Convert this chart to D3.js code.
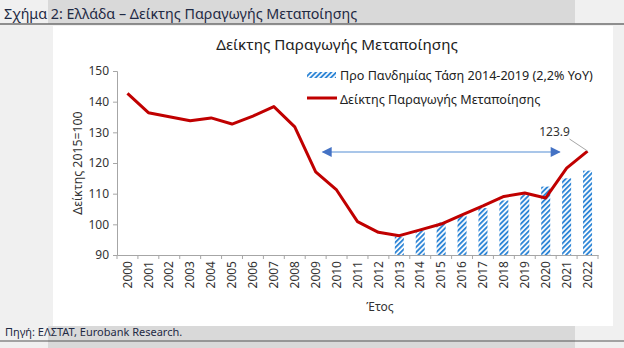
<!DOCTYPE html>
<html><head><meta charset="utf-8">
<script src="https://cdn.jsdelivr.net/npm/d3@7"></script>
<style>
html,body{margin:0;padding:0;background:#f0f0f0;}
svg{display:block;font-family:"Noto Sans",sans-serif;}
</style></head>
<body>
<svg id="c" width="624" height="348"></svg>
<script>
const years = ["2000","2001","2002","2003","2004","2005","2006","2007","2008","2009","2010","2011","2012","2013","2014","2015","2016","2017","2018","2019","2020","2021","2022"];
const indexValues = [142.7,136.4,135.1,133.8,134.7,132.7,135.3,138.4,131.8,117.1,111.2,100.9,97.4,96.3,98.2,100.1,103.1,106.0,109.1,110.2,108.6,118.3,123.9];
const trendYears = ["2013","2014","2015","2016","2017","2018","2019","2020","2021","2022"];
const trendValues = [96.0,98.0,100.6,102.8,105.3,107.8,109.8,112.3,115.0,117.5];
const yTicks = [90,100,110,120,130,140,150];
const legendLabels = ["Προ Πανδημίας Τάση 2014-2019 (2,2% YoY)","Δείκτης Παραγωγής Μεταποίησης"];
const chartTitle = "Δείκτης Παραγωγής Μεταποίησης";
const pageTitle = "Σχήμα 2: Ελλάδα – Δείκτης Παραγωγής Μεταποίησης";
const sourceText = "Πηγή: ΕΛΣΤΑΤ, Eurobank Research.";
const arrowFrom = "2009", arrowTo = "2020", arrowLevel = 123.6;

const svg = d3.select("#c");
const defs = svg.append("defs");
const pat = defs.append("pattern").attr("id","stripes").attr("patternUnits","userSpaceOnUse")
  .attr("width",3.6).attr("height",3.6).attr("patternTransform","rotate(45)");
pat.append("rect").attr("width",3.6).attr("height",3.6).attr("fill","#fff");
pat.append("rect").attr("width",1.9).attr("height",3.6).attr("fill","#2f86d6");
const mk = defs.append("marker").attr("id","ah").attr("viewBox","0 0 10 10").attr("refX",9).attr("refY",5)
  .attr("markerWidth",11).attr("markerHeight",10).attr("markerUnits","userSpaceOnUse").attr("orient","auto-start-reverse");
mk.append("path").attr("d","M0,0L10,5L0,10z").attr("fill","#4472c4");

// backgrounds
svg.append("rect").attr("x",0).attr("y",0).attr("width",624).attr("height",348).attr("fill","#f0f0f0");
svg.append("rect").attr("x",48).attr("y",0).attr("width",527).attr("height",24).attr("fill","#d9d9d9");
svg.append("rect").attr("x",48).attr("y",326).attr("width",527).attr("height",22).attr("fill","#d9d9d9");
svg.append("rect").attr("x",53).attr("y",26).attr("width",560).attr("height",300).attr("fill","#ffffff");
svg.append("line").attr("x1",0).attr("x2",624).attr("y1",24).attr("y2",24).attr("stroke","#6e6e6e").attr("stroke-width",1.5);
svg.append("line").attr("x1",0).attr("x2",624).attr("y1",341).attr("y2",341).attr("stroke","#555").attr("stroke-width",1.2);
svg.append("text").attr("x",4).attr("y",19).attr("font-size",14.3).attr("fill","#1f2a44").text(pageTitle);
svg.append("text").attr("x",5).attr("y",336).attr("font-size",11).attr("fill","#1f2a44").text(sourceText);

const x = d3.scaleBand().domain(years).range([117,598]).paddingInner(0).paddingOuter(0);
const y = d3.scaleLinear().domain([90,150]).range([255,71]);

svg.append("text").attr("x",337).attr("y",50).attr("text-anchor","middle").attr("font-size",15.2).attr("fill","#222").text(chartTitle);

// y axis
const ya = svg.append("g").attr("transform","translate(117,0)").call(d3.axisLeft(y).tickValues(yTicks).tickSize(4).tickPadding(4));
ya.select(".domain").attr("stroke","#a6a6a6");
ya.selectAll(".tick line").attr("stroke","#a6a6a6");
ya.selectAll("text").attr("font-size",12).attr("fill","#333").attr("font-family","Noto Sans");
svg.append("text").attr("transform","translate(82,163) rotate(-90)").attr("text-anchor","middle").attr("font-size",12.3).attr("fill","#333").text("Δείκτης 2015=100");

// bars
svg.append("g").selectAll("rect").data(trendYears).join("rect")
  .attr("x",d=>x(d)+x.bandwidth()/2-4.5).attr("width",9)
  .attr("y",(d,i)=>y(trendValues[i])).attr("height",(d,i)=>y(90)-y(trendValues[i]))
  .attr("fill","url(#stripes)");

// x axis
const xa = svg.append("g").attr("transform","translate(0,255)").call(d3.axisBottom(x).tickSize(0).tickPadding(0));
xa.select(".domain").attr("stroke","#a6a6a6");
xa.selectAll(".tick text").attr("font-size",12).attr("fill","#333").attr("font-family","Noto Sans")
  .attr("transform","rotate(-90)").attr("text-anchor","end").attr("dx","-6").attr("dy","0.35em").attr("y",0).attr("x",0);
svg.append("g").selectAll("line").data(years.concat(["end"])).join("line")
  .attr("x1",(d,i)=>117+i*x.bandwidth()).attr("x2",(d,i)=>117+i*x.bandwidth())
  .attr("y1",255).attr("y2",259).attr("stroke","#a6a6a6");
svg.append("text").attr("x",380).attr("y",311).attr("text-anchor","middle").attr("font-size",12).attr("fill","#333").text("Έτος");

// line
const line = d3.line().x((d,i)=>x(years[i])+x.bandwidth()/2).y(d=>y(d));
svg.append("path").datum(indexValues).attr("d",line).attr("fill","none").attr("stroke","#c00000").attr("stroke-width",3).attr("stroke-linejoin","round");

// arrow
svg.append("line").attr("x1",x(arrowFrom)+x.bandwidth()/2+7).attr("x2",x(arrowTo)+x.bandwidth()/2+14)
  .attr("y1",y(arrowLevel)).attr("y2",y(arrowLevel)).attr("stroke","#8db3e2").attr("stroke-width",1.5)
  .attr("marker-start","url(#ah)").attr("marker-end","url(#ah)");

// annotation
const lx = x("2022")+x.bandwidth()/2, ly = y(indexValues[22]);
svg.append("line").attr("x1",lx).attr("y1",ly).attr("x2",lx-18).attr("y2",ly-12).attr("stroke","#a6a6a6").attr("stroke-width",1);
svg.append("text").attr("x",lx-33).attr("y",ly-15).attr("text-anchor","middle").attr("font-size",12).attr("fill","#333").text(indexValues[22].toFixed(1));

// legend
const lg = svg.append("g");
lg.append("rect").attr("x",307).attr("y",72).attr("width",29).attr("height",6).attr("fill","url(#stripes)");
lg.append("line").attr("x1",307).attr("x2",337).attr("y1",98).attr("y2",98).attr("stroke","#c00000").attr("stroke-width",3);
lg.selectAll("text").data(legendLabels).join("text").attr("x",340).attr("y",(d,i)=>80+i*23.5)
  .attr("font-size",12.6).attr("fill","#222").text(d=>d);
</script>
</body></html>
